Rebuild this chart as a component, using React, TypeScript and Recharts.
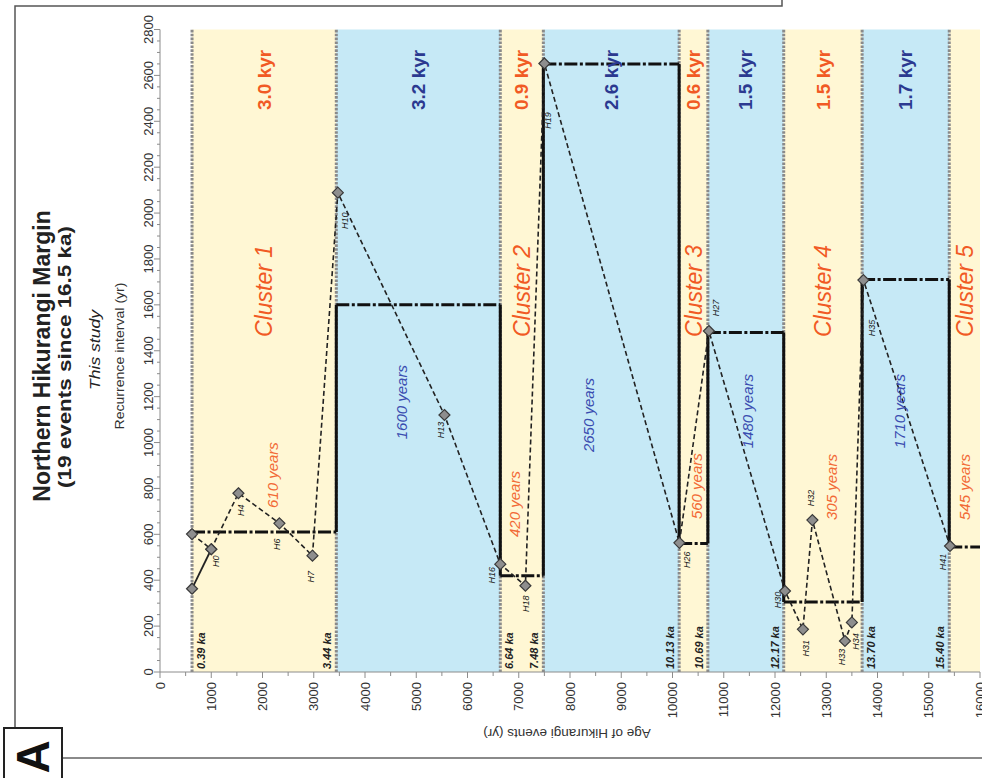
import React from 'react';
import { ComposedChart, XAxis, YAxis, Line, Scatter, ReferenceArea, ReferenceLine } from 'recharts';

const FONT = "'Liberation Sans', Arial, Helvetica, sans-serif";

// ---------- data ----------
const boundaryAges = [625, 3440, 6640, 7480, 10130, 10690, 12170, 13700, 15400];
const boundaryLabels = ['0.39 ka', '3.44 ka', '6.64 ka', '7.48 ka', '10.13 ka', '10.69 ka', '12.17 ka', '13.70 ka', '15.40 ka'];
const endAge = 16000;
const periodKinds = ['cluster', 'gap', 'cluster', 'gap', 'cluster', 'gap', 'cluster', 'gap', 'cluster'];
const periodDurations = ['3.0 kyr', '3.2 kyr', '0.9 kyr', '2.6 kyr', '0.6 kyr', '1.5 kyr', '1.5 kyr', '1.7 kyr', ''];
const periodMeans = [610, 1600, 420, 2650, 560, 1480, 305, 1710, 545];
const clusterNames = ['Cluster 1', 'Cluster 2', 'Cluster 3', 'Cluster 4', 'Cluster 5'];

const meanLabelTexts = ['610 years', '1600 years', '420 years', '2650 years', '560 years', '1480 years', '305 years', '1710 years', '545 years'];
const meanLabelAges = [2205, 4716, 6927, 8371, 10478, 11473, 13106, 14439, 15707];
const meanLabelIntervals = [858, 1176, 732, 1120, 810, 1137, 806, 1137, 806];

const eventLabels = ['', 'H0', 'H4', 'H6', 'H7', 'H10', 'H13', 'H16', 'H18', 'H19', 'H26', 'H27', 'H30', 'H31', 'H32', 'H33', 'H34', 'H35', 'H41'];
const eventAges = [625, 1000, 1530, 2330, 2975, 3470, 5550, 6640, 7130, 7500, 10135, 10710, 12195, 12545, 12730, 13365, 13500, 13725, 15415];
const eventIntervals = [601, 535, 779, 648, 507, 2089, 1120, 470, 376, 2652, 563, 1486, 353, 186, 662, 135, 216, 1708, 549];

const leadAges = [625, 1000];
const leadIntervals = [363, 535];

const xMajorTicks = [0, 1000, 2000, 3000, 4000, 5000, 6000, 7000, 8000, 9000, 10000, 11000, 12000, 13000, 14000, 15000, 16000];
const yMajorTicks = [0, 200, 400, 600, 800, 1000, 1200, 1400, 1600, 1800, 2000, 2200, 2400, 2600, 2800];

// ---------- layout helpers (not data) ----------
const boundaryLabelSides = [1, -1, 1, -1, -1, -1, -1, 1, -1];
const pointLabelOffsets: Record<string, [number, number]> = {
  H0: [5, 12], H4: [2, 17], H6: [-3, 21], H7: [-2, 21], H10: [7, 28], H13: [-4, 15],
  H16: [-8, 11], H18: [0, 18], H19: [3, 57], H26: [7, 17], H27: [7, -23], H30: [-7, 9],
  H31: [3, 19], H32: [-2, -22], H33: [-3, 16], H34: [4, 19], H35: [8, 48], H41: [-7, 16],
};
const KYR_LABEL_VALUE = 2449;
const CLUSTER_LABEL_VALUE = 1460;

const ORANGE = '#F15A24';
const ORANGE_LIGHT = '#F26A36';
const BLUE = '#2B3990';
const BLUE_LIGHT = '#3A4DB0';
const YELLOW_BG = '#FFF7D4';
const BLUE_BG = '#C6E9F6';

const periods = periodKinds.map((kind, i) => ({
  kind,
  start: boundaryAges[i],
  end: i + 1 < boundaryAges.length ? boundaryAges[i + 1] : endAge,
  duration: periodDurations[i],
  mean: periodMeans[i],
}));

const xTicks: number[] = [];
xMajorTicks.forEach((t, i) => {
  xTicks.push(t);
  if (i < xMajorTicks.length - 1) xTicks.push((t + xMajorTicks[i + 1]) / 2);
});
const yTicks: number[] = [];
yMajorTicks.forEach((t, i) => {
  yTicks.push(t);
  if (i < yMajorTicks.length - 1) {
    const step = (yMajorTicks[i + 1] - t) / 4;
    yTicks.push(t + step, t + 2 * step, t + 3 * step);
  }
});

const dashedData = eventAges.map((a, i) => ({ age: a, value: eventIntervals[i], label: eventLabels[i] }));
const leadData = leadAges.map((a, i) => ({ age: a, value: leadIntervals[i] }));
const pointLabelData = dashedData.filter((d) => d.label !== '');

const kyrData = periods
  .filter((p) => p.duration !== '')
  .map((p) => ({ age: (p.start + p.end) / 2, value: KYR_LABEL_VALUE, text: p.duration, kind: p.kind }));
const clusterData = periods
  .filter((p) => p.kind === 'cluster')
  .map((p, i) => ({ age: (p.start + p.end) / 2, value: CLUSTER_LABEL_VALUE, text: clusterNames[i] }));
const meanLabelData = meanLabelTexts.map((t, i) => ({ age: meanLabelAges[i], value: meanLabelIntervals[i], text: t, kind: periodKinds[i] }));
const boundaryLabelData = boundaryAges.map((a, i) => ({ age: a, value: 0, text: boundaryLabels[i], side: boundaryLabelSides[i] }));

// ---------- renderers ----------
const rot = (x: number, y: number) => `translate(${x},${y}) rotate(-90)`;

const XTick = (props: any) => {
  const { x, y, payload } = props;
  const major = payload.value % 1000 === 0;
  return (
    <g>
      <line x1={x} x2={x} y1={y} y2={y + (major ? 6 : 4)} stroke="#8c8c8c" strokeWidth={1} />
      {major && (
        <text transform={rot(x, y + 10)} textAnchor="end" dy="0.35em" fontSize={13} fill="#333" fontFamily={FONT}>
          {payload.value}
        </text>
      )}
    </g>
  );
};

const YTick = (props: any) => {
  const { x, y, payload } = props;
  const major = payload.value % 200 === 0;
  return (
    <g>
      <line x1={x - (major ? 6 : 3)} x2={x} y1={y} y2={y} stroke="#8c8c8c" strokeWidth={1} />
      {major && (
        <text transform={rot(x - 12, y)} textAnchor="middle" dy="0.35em" fontSize={13} fill="#333" fontFamily={FONT}>
          {payload.value}
        </text>
      )}
    </g>
  );
};

const diamond = (props: any) => {
  const { cx, cy, index } = props;
  if (cx == null || cy == null) return <g key={`e-${index}`} />;
  const s = 5.5;
  return (
    <path
      key={`d-${index}-${cx}`}
      d={`M${cx},${cy - s}L${cx + s},${cy}L${cx},${cy + s}L${cx - s},${cy}Z`}
      fill="#8e8e8e"
      stroke="#3a3a3a"
      strokeWidth={1.2}
    />
  );
};

const kyrShape = (props: any) => {
  const { cx, cy, payload } = props;
  return (
    <text transform={rot(cx, cy)} textAnchor="start" dy="0.35em" fontSize={19} fontWeight="bold"
      fill={payload.kind === 'cluster' ? ORANGE : BLUE} fontFamily={FONT}>
      {payload.text}
    </text>
  );
};

const clusterShape = (props: any) => {
  const { cx, cy, payload } = props;
  return (
    <text transform={rot(cx, cy)} textAnchor="start" dy="0.35em" fontSize={23} fontStyle="italic"
      fill={ORANGE} fontFamily={FONT}>
      {payload.text}
    </text>
  );
};

const meanShape = (props: any) => {
  const { cx, cy, payload } = props;
  return (
    <text transform={rot(cx, cy)} textAnchor="middle" dy="0.35em" fontSize={15} fontStyle="italic"
      fill={payload.kind === 'cluster' ? ORANGE_LIGHT : BLUE_LIGHT} fontFamily={FONT}>
      {payload.text}
    </text>
  );
};

const boundaryShape = (props: any) => {
  const { cx, cy, payload } = props;
  return (
    <text transform={rot(cx + payload.side * 9, cy - 3)} textAnchor="start" dy="0.35em" fontSize={11}
      fontStyle="italic" fontWeight="bold" fill="#222" fontFamily={FONT}>
      {payload.text}
    </text>
  );
};

const pointLabelShape = (props: any) => {
  const { cx, cy, payload } = props;
  const off = pointLabelOffsets[payload.label] || [0, 14];
  return (
    <text transform={rot(cx + off[0], cy + off[1])} textAnchor="middle" dy="0.35em" fontSize={9}
      fontStyle="italic" fill="#222" fontFamily={FONT}>
      {payload.label}
    </text>
  );
};

export default function App() {
  return (
    <div style={{ position: 'absolute', left: 0, top: 0, width: 982, height: 778, background: '#fff', overflow: 'hidden' }}>
      <svg width={982} height={778} style={{ position: 'absolute', left: 0, top: 0 }}>
        {/* frame */}
        <polyline points="15,728 15,6 782,6 782,0" fill="none" stroke="#555" strokeWidth={1.5} />
        <line x1={62} y1={758} x2={982} y2={758} stroke="#8a8a8a" strokeWidth={2} />
        <rect x={4} y={728} width={58} height={60} fill="#fff" stroke="#222" strokeWidth={2} />
        <text transform={rot(33, 757)} textAnchor="middle" dy="0.35em" fontSize={46} fontWeight="bold" fill="#111" fontFamily={FONT}>A</text>
        {/* titles */}
        <text transform={rot(42, 356)} textAnchor="middle" dy="0.35em" fontSize={23} fontWeight="bold" fill="#222" fontFamily={FONT}>
          Northern Hikurangi Margin
        </text>
        <text transform={rot(65, 357)} textAnchor="middle" dy="0.35em" fontSize={18} fontWeight="bold" fill="#222" fontFamily={FONT}
          textLength={262} lengthAdjust="spacingAndGlyphs">
          (19 events since 16.5 ka)
        </text>
        <text transform={rot(95, 350)} textAnchor="middle" dy="0.35em" fontSize={14} fontStyle="italic" fill="#222" fontFamily={FONT}
          textLength={80} lengthAdjust="spacingAndGlyphs">
          This study
        </text>
        <text transform={rot(119, 356)} textAnchor="middle" dy="0.35em" fontSize={13} fill="#333" fontFamily={FONT}
          textLength={147} lengthAdjust="spacingAndGlyphs">
          Recurrence interval (yr)
        </text>
        <text transform="translate(567,734) rotate(180)" textAnchor="middle" dy="0.35em" fontSize={13.5} fill="#333" fontFamily={FONT}>
          Age of Hikurangi events (yr)
        </text>
      </svg>
      <div style={{ position: 'absolute', left: 0, top: 0 }}>
        <ComposedChart width={982} height={778} margin={{ top: 29.5, right: 2, bottom: 46, left: 100 }}>
          <XAxis type="number" dataKey="age" domain={[0, endAge]} ticks={xTicks} interval={0} tick={XTick}
            tickLine={false} tickSize={0} tickMargin={0} axisLine={{ stroke: '#8c8c8c' }} height={60} allowDataOverflow />
          <YAxis type="number" dataKey="value" domain={[0, 2800]} ticks={yTicks} interval={0} tick={YTick}
            tickLine={false} tickSize={0} tickMargin={0} axisLine={{ stroke: '#8c8c8c' }} width={60} allowDataOverflow />
          {periods.map((p, i) => (
            <ReferenceArea key={`band-${i}`} x1={p.start} x2={p.end} y1={0} y2={2800}
              fill={p.kind === 'cluster' ? YELLOW_BG : BLUE_BG} fillOpacity={1} stroke="none" />
          ))}
          {boundaryAges.map((a, i) => (
            <ReferenceLine key={`bl-${i}`} x={a} stroke="#8a8a8a" strokeWidth={3} strokeDasharray="2.6 1.3" />
          ))}
          {periods.map((p, i) => (
            <ReferenceLine key={`h-${i}`} segment={[{ x: p.start, y: p.mean }, { x: p.end, y: p.mean }]}
              stroke="#111" strokeWidth={3} strokeDasharray="13 2.5 3 2.5" />
          ))}
          {periods.slice(1).map((p, i) => (
            <ReferenceLine key={`v-${i}`} segment={[{ x: p.start, y: periods[i].mean }, { x: p.start, y: p.mean }]}
              stroke="#111" strokeWidth={3} />
          ))}
          <Line data={dashedData} dataKey="value" type="linear" stroke="#222" strokeWidth={1.6} strokeDasharray="5 3"
            dot={diamond} activeDot={false} isAnimationActive={false} />
          <Line data={leadData} dataKey="value" type="linear" stroke="#222" strokeWidth={1.8}
            dot={diamond} activeDot={false} isAnimationActive={false} />
          <Scatter data={kyrData} dataKey="value" shape={kyrShape} isAnimationActive={false} />
          <Scatter data={clusterData} dataKey="value" shape={clusterShape} isAnimationActive={false} />
          <Scatter data={meanLabelData} dataKey="value" shape={meanShape} isAnimationActive={false} />
          <Scatter data={boundaryLabelData} dataKey="value" shape={boundaryShape} isAnimationActive={false} />
          <Scatter data={pointLabelData} dataKey="value" shape={pointLabelShape} isAnimationActive={false} />
        </ComposedChart>
      </div>
    </div>
  );
}
